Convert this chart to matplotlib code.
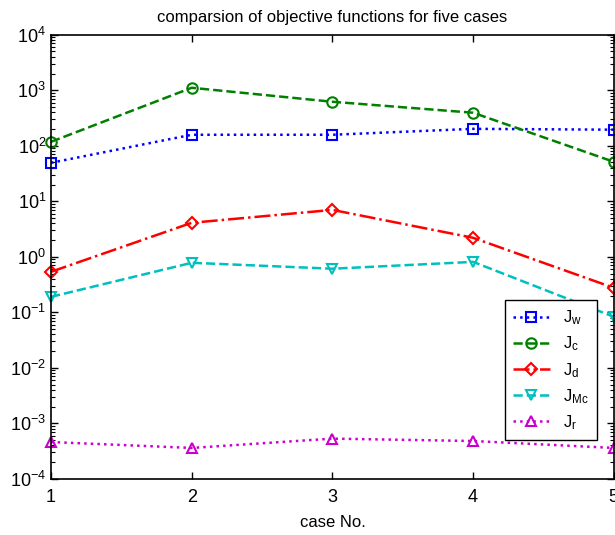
import numpy as np
import matplotlib
matplotlib.use("Agg")
import matplotlib.pyplot as plt
from matplotlib.ticker import LogLocator, NullFormatter

# objective function values for each case
cases = [1, 2, 3, 4, 5]
J_w = [49.4, 158, 158, 202, 195]
J_c = [118, 1110, 621, 394, 51.5]
J_d = [0.537, 4.1, 7.0, 2.2, 0.276]
J_Mc = [0.19, 0.78, 0.61, 0.81, 0.083]
J_r = [4.6e-4, 3.6e-4, 5.3e-4, 4.8e-4, 3.6e-4]

plt.rcParams["font.family"] = ["Liberation Sans", "DejaVu Sans"]
plt.rcParams["mathtext.fontset"] = "custom"
plt.rcParams["mathtext.rm"] = "Liberation Sans"
plt.rcParams["mathtext.it"] = "Liberation Sans"

fig = plt.figure(figsize=(6.15, 5.35), dpi=100)
ax = fig.add_axes([0.083, 0.105, 0.915, 0.83])

series = [
    (J_w, "b", ":", "s", r"$\mathrm{J_w}$"),
    (J_c, (0, 0.5, 0), "--", "o", r"$\mathrm{J_c}$"),
    (J_d, "r", "-.", "D", r"$\mathrm{J_d}$"),
    (J_Mc, (0, 0.75, 0.75), "--", "v", r"$\mathrm{J_{Mc}}$"),
    (J_r, (0.8, 0, 0.8), ":", "^", r"$\mathrm{J_r}$"),
]
for vals, col, ls, mk, lab in series:
    ms = 6 if mk == "D" else 7.5
    ax.plot(cases, vals, color=col, linestyle=ls, linewidth=1.8,
            marker=mk, markersize=ms, markerfacecolor="none",
            markeredgewidth=1.5, label=lab, clip_on=False)

ax.set_yscale("log")
ax.set_ylim(1e-4, 1e4)
ax.set_xlim(1, 5)
ax.set_xticks(cases)
ax.set_yticks([10.0 ** k for k in range(-4, 5)])
ax.yaxis.set_minor_locator(LogLocator(base=10, subs=np.arange(2, 10), numticks=20))
ax.yaxis.set_minor_formatter(NullFormatter())

ax.tick_params(which="both", direction="in", top=True, right=True, labelsize=13)
ax.tick_params(axis="x", pad=7)
ax.tick_params(which="major", length=5, width=1)
ax.tick_params(which="minor", length=3, width=0.8)
for sp in ax.spines.values():
    sp.set_linewidth(1.2)

ax.set_title("comparsion of objective functions for five cases", fontsize=12, pad=9)
ax.set_xlabel("case No.", fontsize=12, labelpad=7)

leg = ax.legend(loc="lower right", bbox_to_anchor=(0.985, 0.068),
                fontsize=12, handlelength=2.2, borderpad=0.5,
                labelspacing=0.45, fancybox=False, framealpha=1)
leg.get_frame().set_edgecolor("black")
leg.get_frame().set_linewidth(1.0)

fig.savefig("out.png", dpi=100)
